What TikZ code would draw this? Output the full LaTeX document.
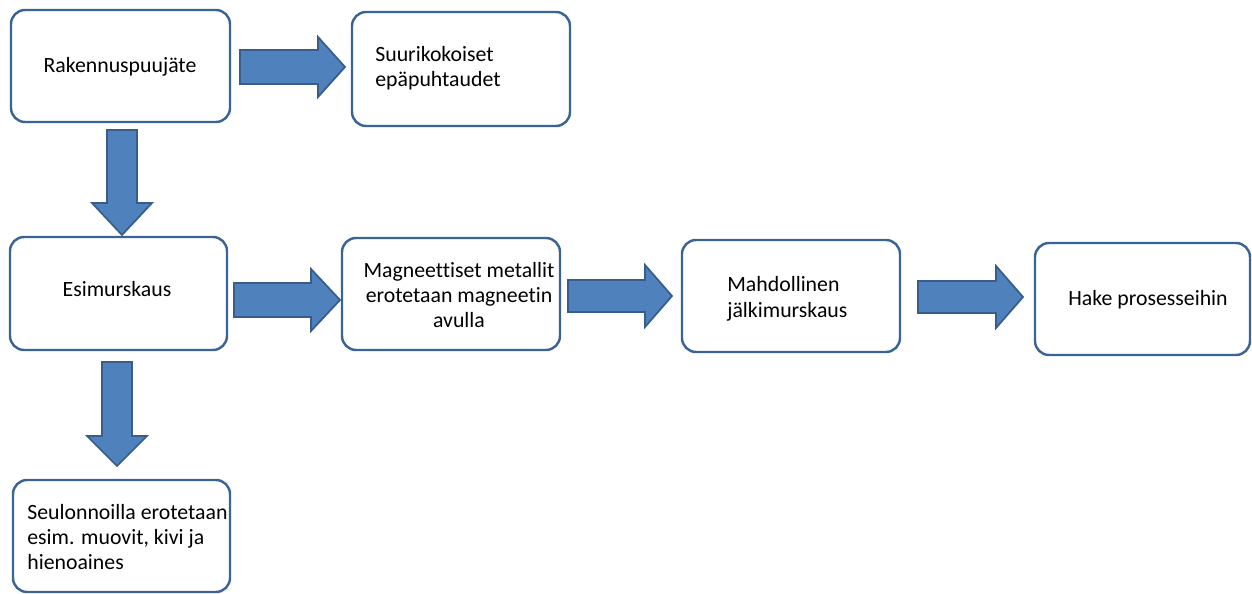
\documentclass[tikz,border=0pt]{standalone}
\usepackage{fontspec}
\setmainfont{Carlito}[Ligatures=NoCommon]
\definecolor{boxline}{HTML}{3B6496}
\definecolor{arrfill}{HTML}{4F81BD}
\definecolor{arrline}{HTML}{385D8A}
\newcommand\fatR[6]{% x1, x2, yc, shaft half, head half, head length
  \fill[arrfill,draw=arrline,line width=1pt,line join=miter]
    (#1,#3-#4) -- (#2-#6,#3-#4) -- (#2-#6,#3-#5) -- (#2,#3) -- (#2-#6,#3+#5)
    -- (#2-#6,#3+#4) -- (#1,#3+#4) -- cycle;}
\newcommand\fatD[6]{% y1, y2, xc, shaft half, head half, head length
  \fill[arrfill,draw=arrline,line width=1pt,line join=miter]
    (#3-#4,#1) -- (#3-#4,#2-#6) -- (#3-#5,#2-#6) -- (#3,#2) -- (#3+#5,#2-#6)
    -- (#3+#4,#2-#6) -- (#3+#4,#1) -- cycle;}
\begin{document}
\begin{tikzpicture}[x=0.02cm,y=-0.02cm,
  box/.style={draw=boxline,line width=1.4pt,rounded corners=8pt,fill=white},
  txt/.style={font=\fontsize{12.4}{14.5}\selectfont,inner sep=0pt}]
\useasboundingbox (0,0) rectangle (1252,594);
% boxes
\draw[box] (11,10) rectangle (230,122);
\draw[box] (352,12) rectangle (570,126);
\draw[box] (10,237) rectangle (227,350);
\draw[box] (342,238) rectangle (560,350);
\draw[box] (682,240) rectangle (900,352);
\draw[box] (1035,243) rectangle (1250,355);
\draw[box] (13,480) rectangle (230,592);
% texts
\node[txt] (t1) at (120,67) {Rakennuspuujäte};
\node[txt,align=left,anchor=west] (t2) at (375,68) {Suurikokoiset\\epäpuhtaudet};
\node[txt] (t3) at (117,289) {Esimurskaus};
\node[txt,align=center] (t4) at (459,295) {Magneettiset metallit\\erotetaan magneetin\\avulla};
\node[txt,align=left,anchor=west] (t5) at (727,299) {Mahdollinen\\jälkimurskaus};
\node[txt,anchor=west] (t6) at (1068,300) {Hake prosesseihin};
\node[txt,align=left,anchor=west] (t7) at (27,537) {Seulonnoilla erotetaan\\esim. muovit, kivi ja\\hienoaines};
% arrows
\fatR{240}{345}{67}{17}{30}{27}
\fatD{130}{235}{122}{15}{30}{32}
\fatR{234}{340}{300}{17}{31}{29}
\fatR{568}{672}{296}{16}{31}{27}
\fatR{918}{1023}{297}{16}{31}{27}
\fatD{362}{466}{117}{15}{30}{30}
\end{tikzpicture}
\end{document}
